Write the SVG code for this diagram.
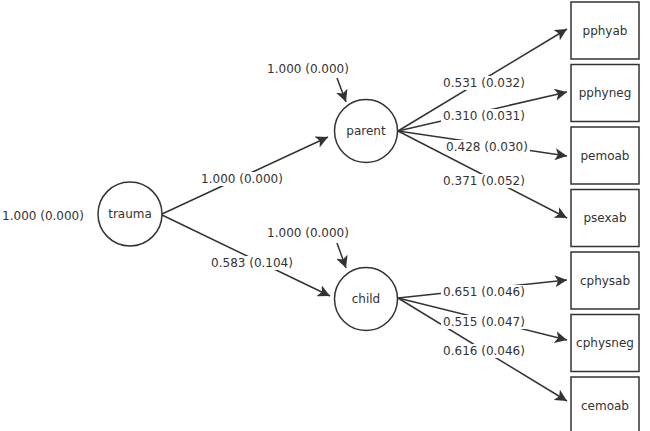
<svg xmlns="http://www.w3.org/2000/svg" width="650" height="431" viewBox="0 0 650 431">
<defs>
<marker id="ah" viewBox="0 0 10 10" refX="10" refY="5" markerWidth="12" markerHeight="12" markerUnits="userSpaceOnUse" orient="auto">
<path d="M0,0 L10,5 L0,10 L2.5,5 z" fill="#333"/>
</marker>
</defs>
<style>
.n{fill:#fff;stroke:#333;stroke-width:1.5}
.t{font-family:"DejaVu Sans",Verdana,sans-serif;font-size:12px;fill:#333;text-anchor:middle}
.e{stroke:#333;stroke-width:1.5;fill:none}
.a{marker-end:url(#ah)}
.bg{fill:#fff}
</style>
<rect width="650" height="431" fill="#fff"/>
<g id="connectors">
<line class="e a" x1="162" y1="214" x2="328" y2="137"/>
<line class="e a" x1="162" y1="215" x2="330" y2="296"/>
<line class="e a" x1="337" y1="78" x2="346" y2="102"/>
<line class="e a" x1="337" y1="243" x2="346" y2="268"/>
<line class="e a" x1="398" y1="131" x2="567" y2="29"/>
<line class="e a" x1="398" y1="131" x2="567" y2="92"/>
<line class="e a" x1="398" y1="131" x2="567" y2="156"/>
<line class="e a" x1="398" y1="131" x2="567" y2="218"/>
<line class="e a" x1="398" y1="298" x2="567" y2="280"/>
<line class="e a" x1="398" y1="298" x2="567" y2="340"/>
<line class="e a" x1="398" y1="298" x2="567" y2="401"/>
<g id="labels">
<rect class="bg" x="199" y="172" width="86" height="14"/><text class="t" x="242" y="183">1.000 (0.000)</text>
<rect class="bg" x="209" y="256" width="86" height="14"/><text class="t" x="252" y="267">0.583 (0.104)</text>
<rect class="bg" x="265" y="62" width="86" height="14"/><text class="t" x="308" y="73">1.000 (0.000)</text>
<rect class="bg" x="265" y="226" width="86" height="14"/><text class="t" x="308" y="237">1.000 (0.000)</text>
<rect class="bg" x="441" y="76" width="86" height="14"/><text class="t" x="484" y="87">0.531 (0.032)</text>
<rect class="bg" x="441" y="109" width="86" height="14"/><text class="t" x="484" y="120">0.310 (0.031)</text>
<rect class="bg" x="444" y="140" width="86" height="14"/><text class="t" x="487" y="151">0.428 (0.030)</text>
<rect class="bg" x="441" y="174" width="86" height="14"/><text class="t" x="484" y="185">0.371 (0.052)</text>
<rect class="bg" x="441" y="285" width="86" height="14"/><text class="t" x="484" y="296">0.651 (0.046)</text>
<rect class="bg" x="441" y="315" width="86" height="14"/><text class="t" x="484" y="326">0.515 (0.047)</text>
<rect class="bg" x="441" y="344" width="86" height="14"/><text class="t" x="484" y="355">0.616 (0.046)</text>
</g>
</g>
<text class="t" x="43" y="220">1.000 (0.000)</text>
<g id="trauma"><circle class="n" cx="130" cy="214" r="32"/><text class="t" x="130" y="218">trauma</text></g>
<g id="parent"><circle class="n" cx="366" cy="131" r="31.5"/><text class="t" x="366" y="135">parent</text></g>
<g id="child"><circle class="n" cx="366" cy="299" r="31.5"/><text class="t" x="366" y="303">child</text></g>
<g id="pphyab"><rect class="n" x="571" y="2" width="68" height="57"/><text class="t" x="605" y="35">pphyab</text></g>
<g id="pphyneg"><rect class="n" x="571" y="64.5" width="68" height="57"/><text class="t" x="605" y="97">pphyneg</text></g>
<g id="pemoab"><rect class="n" x="571" y="127" width="68" height="57"/><text class="t" x="605" y="160">pemoab</text></g>
<g id="psexab"><rect class="n" x="571" y="189.5" width="68" height="57"/><text class="t" x="605" y="222">psexab</text></g>
<g id="cphysab"><rect class="n" x="571" y="252" width="68" height="57"/><text class="t" x="605" y="285">cphysab</text></g>
<g id="cphysneg"><rect class="n" x="571" y="314.5" width="68" height="57"/><text class="t" x="605" y="347">cphysneg</text></g>
<g id="cemoab"><rect class="n" x="571" y="377" width="68" height="57"/><text class="t" x="605" y="410">cemoab</text></g>
</svg>
